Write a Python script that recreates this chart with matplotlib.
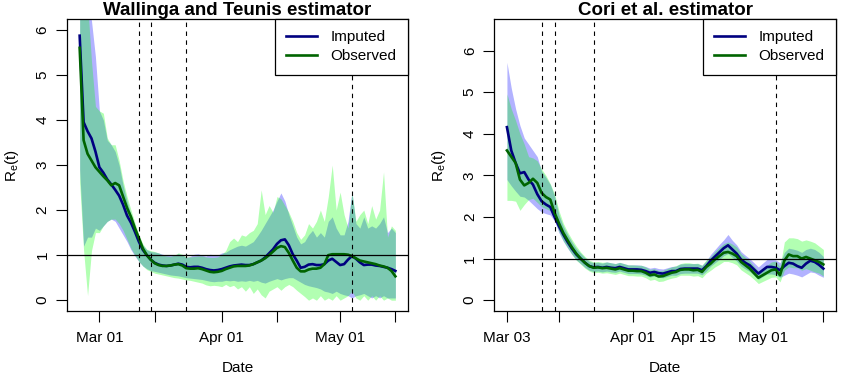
import matplotlib
matplotlib.use("Agg")
import matplotlib.pyplot as plt
import numpy as np
import pandas as pd

plt.rcParams['font.family'] = ['Liberation Sans', 'DejaVu Sans']
plt.rcParams['mathtext.fontset'] = 'custom'
plt.rcParams['mathtext.rm'] = 'Liberation Sans'

# ---- Wallinga & Teunis (Feb 25 .. May 15) ----
wt_dates = pd.date_range("2020-02-25", "2020-05-15", freq="D")
wt_imp = [5.87, 3.95, 3.75, 3.59, 3.3, 2.95, 2.83, 2.68, 2.57, 2.45,
          2.32, 2.12, 1.88, 1.72, 1.52, 1.3, 1.12, 1.0, 0.9, 0.83,
          0.79, 0.77, 0.76, 0.77, 0.79, 0.81, 0.79, 0.74, 0.73, 0.74,
          0.74, 0.72, 0.69, 0.67, 0.66, 0.67, 0.69, 0.72, 0.75, 0.77,
          0.78, 0.79, 0.78, 0.78, 0.8, 0.84, 0.88, 0.95, 1.04, 1.13,
          1.25, 1.33, 1.35, 1.22, 1.02, 0.88, 0.72, 0.74, 0.79, 0.8,
          0.78, 0.78, 0.8, 0.88, 0.92, 0.85, 0.78, 0.8, 0.9, 0.98,
          0.92, 0.84, 0.78, 0.79, 0.79, 0.77, 0.76, 0.74, 0.72, 0.69, 0.65]
wt_obs = [5.6, 3.55, 3.25, 3.1, 2.95, 2.85, 2.75, 2.66, 2.55, 2.6,
          2.55, 2.3, 2.05, 1.85, 1.6, 1.38, 1.15, 1.0, 0.9, 0.82,
          0.78, 0.76, 0.76, 0.77, 0.79, 0.8, 0.77, 0.71, 0.7, 0.7,
          0.71, 0.69, 0.66, 0.63, 0.62, 0.63, 0.65, 0.69, 0.72, 0.75,
          0.76, 0.76, 0.76, 0.77, 0.8, 0.84, 0.88, 0.93, 1.0, 1.08,
          1.16, 1.2, 1.18, 1.05, 0.88, 0.72, 0.64, 0.64, 0.68, 0.7,
          0.7, 0.72, 0.8, 1.0, 1.02, 1.02, 1.02, 1.02, 1.01, 0.98,
          0.93, 0.88, 0.86, 0.84, 0.82, 0.8, 0.77, 0.75, 0.72, 0.65, 0.53]
wt_imp_lo = [2.9, 1.2, 1.4, 1.4, 1.6, 1.55, 1.65, 1.75, 1.8, 1.75,
             1.6, 1.45, 1.3, 1.12, 0.98, 0.86, 0.76, 0.7, 0.66, 0.64,
             0.62, 0.6, 0.58, 0.56, 0.55, 0.54, 0.52, 0.5, 0.49, 0.48,
             0.47, 0.46, 0.44, 0.42, 0.41, 0.42, 0.42, 0.44, 0.43, 0.44,
             0.42, 0.43, 0.42, 0.44, 0.42, 0.44, 0.4, 0.38, 0.42, 0.45,
             0.48, 0.45, 0.48, 0.5, 0.5, 0.45, 0.4, 0.35, 0.32, 0.3,
             0.28, 0.25, 0.2, 0.18, 0.15, 0.2, 0.15, 0.12, 0.1, 0.05,
             0.1, 0.12, 0.15, 0.1, 0.05, 0.1, 0.05, 0.1, 0.05, 0.05, 0.05]
wt_imp_hi = [7.5, 7.0, 6.6, 6.2, 5.4, 4.2, 4.0, 3.55, 3.45, 3.3,
             3.0, 2.55, 2.2, 1.9, 1.65, 1.4, 1.22, 1.12, 1.08, 1.07,
             1.05, 1.02, 1.0, 0.99, 1.0, 1.03, 1.0, 0.95, 0.97, 1.02,
             1.03, 1.0, 0.98, 1.02, 1.01, 1.0, 1.05, 1.06, 1.12, 1.16,
             1.2, 1.22, 1.2, 1.25, 1.3, 1.42, 1.55, 1.7, 1.85, 2.0,
             2.2, 2.38, 2.2, 1.9, 1.65, 1.4, 1.25, 1.3, 1.45, 1.55,
             1.4, 1.5, 1.4, 1.75, 1.85, 1.6, 1.45, 1.45, 1.75, 2.4,
             1.7, 1.6, 1.85, 1.6, 1.65, 1.6, 1.7, 1.85, 1.5, 1.6, 1.5]
wt_obs_lo = [2.6, 1.1, 0.1, 1.1, 1.5, 1.5, 1.65, 1.75, 1.8, 1.8,
             1.7, 1.55, 1.35, 1.15, 1.0, 0.86, 0.76, 0.68, 0.64, 0.6,
             0.58, 0.56, 0.54, 0.52, 0.5, 0.49, 0.47, 0.45, 0.44, 0.42,
             0.4, 0.38, 0.34, 0.32, 0.33, 0.32, 0.3, 0.35, 0.3, 0.33,
             0.25, 0.3, 0.2, 0.3, 0.15, 0.25, 0.12, 0.05, 0.2, 0.25,
             0.3, 0.22, 0.3, 0.35, 0.3, 0.22, 0.15, 0.08, 0.0, 0.05,
             0.0, 0.1, 0.0, 0.05, 0.0, 0.1, 0.0, 0.05, 0.1, 0.2,
             0.05, 0.0, 0.1, 0.0, 0.1, 0.0, 0.1, 0.0, 0.05, 0.0, 0.0]
wt_obs_hi = [7.5, 7.0, 6.6, 5.3, 4.3, 4.2, 4.15, 3.6, 3.45, 3.45,
             3.1, 2.65, 2.3, 2.0, 1.72, 1.45, 1.25, 1.13, 1.1, 1.08,
             1.05, 1.0, 0.98, 0.97, 1.0, 1.05, 1.02, 0.96, 0.96, 0.97,
             0.98, 0.98, 0.96, 0.95, 0.95, 0.96, 1.02, 1.1, 1.3, 1.38,
             1.3, 1.45, 1.42, 1.5, 1.55, 1.7, 2.45, 1.9, 2.1, 1.95,
             2.3, 2.25, 2.1, 1.95, 1.75, 1.5, 1.35, 1.45, 1.7, 1.6,
             1.75, 2.0, 1.75, 2.3, 3.0, 2.0, 2.4, 1.9, 1.6, 2.4,
             1.75, 1.9, 2.0, 1.7, 2.1, 1.8, 2.0, 2.85, 1.4, 1.65, 1.55]

# ---- Cori et al. (Mar 03 .. May 15) ----
co_dates = pd.date_range("2020-03-03", "2020-05-15", freq="D")
co_imp = [4.16, 3.6, 3.3, 3.05, 3.08, 2.9, 2.78, 2.55, 2.38, 2.3,
          2.24, 2.0, 1.78, 1.58, 1.4, 1.24, 1.1, 1.0, 0.9, 0.82,
          0.79, 0.8, 0.78, 0.8, 0.78, 0.77, 0.8, 0.77, 0.74, 0.74,
          0.74, 0.73, 0.7, 0.66, 0.68, 0.65, 0.64, 0.67, 0.7, 0.7,
          0.75, 0.76, 0.76, 0.76, 0.76, 0.72, 0.82, 0.95, 1.05, 1.15,
          1.25, 1.32, 1.22, 1.12, 0.98, 0.9, 0.84, 0.74, 0.64, 0.72,
          0.8, 0.8, 0.78, 0.72, 0.82, 0.9, 0.88, 0.82, 0.78, 0.88,
          0.95, 0.92, 0.85, 0.76]
co_obs = [3.6, 3.45, 3.3, 2.9, 2.76, 2.82, 2.92, 2.82, 2.58, 2.48,
          2.42, 2.1, 1.85, 1.62, 1.44, 1.27, 1.12, 1.0, 0.9, 0.82,
          0.78, 0.79, 0.77, 0.78, 0.76, 0.74, 0.77, 0.74, 0.71, 0.71,
          0.7, 0.7, 0.66, 0.6, 0.62, 0.57, 0.58, 0.62, 0.66, 0.68,
          0.73, 0.74, 0.74, 0.72, 0.73, 0.68, 0.8, 0.88, 0.98, 1.06,
          1.14, 1.16, 1.12, 1.06, 0.92, 0.84, 0.76, 0.65, 0.54, 0.6,
          0.66, 0.72, 0.74, 0.6, 0.95, 1.1, 1.06, 1.06, 1.0, 1.04,
          1.0, 0.96, 0.92, 0.86]
co_imp_lo = [2.9, 2.75, 2.62, 2.5, 2.48, 2.4, 2.3, 2.2, 2.12, 2.08,
             2.05, 1.9, 1.62, 1.42, 1.25, 1.1, 0.97, 0.88, 0.79, 0.72,
             0.69, 0.7, 0.68, 0.7, 0.68, 0.67, 0.7, 0.67, 0.64, 0.64,
             0.64, 0.63, 0.6, 0.56, 0.58, 0.55, 0.54, 0.57, 0.6, 0.6,
             0.64, 0.65, 0.65, 0.65, 0.65, 0.61, 0.7, 0.82, 0.9, 0.98,
             1.07, 1.12, 1.03, 0.94, 0.82, 0.75, 0.69, 0.6, 0.5, 0.57,
             0.63, 0.63, 0.61, 0.55, 0.6, 0.65, 0.63, 0.6, 0.56, 0.62,
             0.68, 0.66, 0.6, 0.55]
co_imp_hi = [5.72, 5.1, 4.6, 4.2, 3.9, 3.75, 3.6, 3.45, 3.1, 2.95,
             2.78, 2.5, 2.05, 1.78, 1.58, 1.4, 1.24, 1.13, 1.02, 0.93,
             0.9, 0.91, 0.89, 0.92, 0.9, 0.88, 0.91, 0.88, 0.85, 0.85,
             0.85, 0.84, 0.81, 0.77, 0.79, 0.76, 0.75, 0.78, 0.81, 0.82,
             0.87, 0.88, 0.88, 0.88, 0.88, 0.84, 0.95, 1.1, 1.22, 1.34,
             1.45, 1.58, 1.44, 1.33, 1.17, 1.08, 1.0, 0.9, 0.8, 0.89,
             0.98, 0.98, 0.97, 0.9, 1.15, 1.25, 1.23, 1.2, 1.15, 1.22,
             1.25, 1.22, 1.15, 1.05]
co_obs_lo = [2.4, 2.4, 2.38, 2.16, 2.3, 2.42, 2.45, 2.35, 2.25, 2.2,
             2.15, 1.95, 1.65, 1.43, 1.26, 1.1, 0.96, 0.87, 0.77, 0.7,
             0.66, 0.67, 0.65, 0.66, 0.64, 0.62, 0.65, 0.62, 0.59, 0.59,
             0.58, 0.58, 0.54, 0.48, 0.5, 0.45, 0.46, 0.5, 0.53, 0.55,
             0.6, 0.6, 0.6, 0.58, 0.59, 0.54, 0.65, 0.72, 0.8, 0.86,
             0.93, 0.93, 0.9, 0.85, 0.73, 0.66, 0.59, 0.5, 0.4, 0.45,
             0.5, 0.55, 0.56, 0.44, 0.72, 0.8, 0.78, 0.78, 0.72, 0.76,
             0.72, 0.68, 0.65, 0.58]
co_obs_hi = [4.96, 4.6, 4.32, 4.0, 3.75, 3.45, 3.42, 3.35, 3.15, 3.0,
             2.8, 2.55, 2.15, 1.85, 1.64, 1.46, 1.3, 1.16, 1.05, 0.96,
             0.92, 0.93, 0.91, 0.92, 0.9, 0.88, 0.91, 0.88, 0.85, 0.85,
             0.84, 0.84, 0.8, 0.74, 0.76, 0.71, 0.72, 0.76, 0.8, 0.83,
             0.88, 0.9, 0.9, 0.88, 0.89, 0.84, 0.97, 1.05, 1.17, 1.27,
             1.36, 1.4, 1.35, 1.28, 1.12, 1.03, 0.94, 0.82, 0.7, 0.78,
             0.84, 0.92, 0.94, 0.8, 1.4, 1.5, 1.5, 1.48, 1.42, 1.45,
             1.42, 1.38, 1.3, 1.22]

event_dates = pd.to_datetime(["2020-03-11", "2020-03-14", "2020-03-23", "2020-05-04"])

wt_ticks = pd.to_datetime(["2020-03-01", "2020-03-15", "2020-04-01",
                           "2020-04-15", "2020-05-01", "2020-05-15"])
wt_ticklabels = ["Mar 01", "", "Apr 01", "", "May 01", ""]
co_ticks = pd.to_datetime(["2020-03-03", "2020-03-15", "2020-04-01",
                           "2020-04-15", "2020-05-01", "2020-05-15"])
co_ticklabels = ["Mar 03", "", "Apr 01", "Apr 15", "May 01", ""]


def draw_panel(ax, dates, imp, obs, imp_lo, imp_hi, obs_lo, obs_hi,
               ticks, ticklabels, ytop, title):
    ax.fill_between(dates, imp_lo, imp_hi, color=(0, 0, 1), alpha=0.3, lw=0)
    ax.fill_between(dates, obs_lo, obs_hi, color=(0, 1, 0), alpha=0.3, lw=0)
    ax.plot(dates, imp, color="navy", lw=1.9, label="Imputed")
    ax.plot(dates, obs, color="darkgreen", lw=1.9, label="Observed")
    ax.axhline(1, color="black", lw=0.9)
    for d in event_dates:
        ax.axvline(d, color="black", lw=0.8, linestyle=(0, (4, 4)))

    span = dates[-1] - dates[0]
    ax.set_xlim(dates[0] - span * 0.04, dates[-1] + span * 0.04)
    ax.set_ylim(-0.04 * ytop, ytop * 1.04)
    ax.set_yticks(range(7))
    ax.set_yticklabels([str(i) for i in range(7)], rotation=90, va="center")
    ax.set_xticks(ticks)
    ax.set_xticklabels(ticklabels)
    ax.tick_params(direction="out", length=7.6, width=0.8, labelsize=11, pad=5)
    ax.tick_params(axis="x", pad=7)
    for s in ax.spines.values():
        s.set_linewidth(0.9)

    ax.set_title(title, fontsize=13.5, fontweight="bold", pad=2)
    ax.set_xlabel("Date", fontsize=11)
    ax.set_ylabel(r"R$_\mathrm{e}$(t)", fontsize=11)
    ax.xaxis.set_label_coords(0.5, -0.17)
    ax.yaxis.set_label_coords(-0.135, 0.5)

    leg = ax.legend(loc="upper right", fontsize=11, frameon=True, fancybox=False,
                    borderaxespad=0, handlelength=2.0, handletextpad=0.9,
                    labelspacing=0.3, borderpad=0.75, framealpha=1)
    leg.get_frame().set_edgecolor("black")
    leg.get_frame().set_linewidth(0.9)


fig = plt.figure(figsize=(8.55, 3.78), dpi=100)
ax1 = fig.add_axes([0.0784, 0.1772, 0.3988, 0.7725])
ax2 = fig.add_axes([0.5781, 0.1772, 0.3997, 0.7725])

draw_panel(ax1, wt_dates, wt_imp, wt_obs, wt_imp_lo, wt_imp_hi, wt_obs_lo, wt_obs_hi,
           wt_ticks, wt_ticklabels, 6.0, "Wallinga and Teunis estimator")
draw_panel(ax2, co_dates, co_imp, co_obs, co_imp_lo, co_imp_hi, co_obs_lo, co_obs_hi,
           co_ticks, co_ticklabels, 6.5, "Cori et al. estimator")

fig.savefig("out.png", dpi=100)
